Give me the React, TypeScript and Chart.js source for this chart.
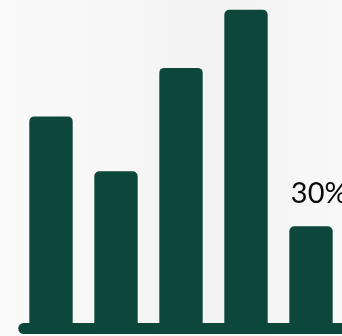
import React, { useEffect, useRef } from "react";
import { Chart, registerables } from "chart.js";

Chart.register(...registerables);

const categories = ["A", "B", "C", "D", "E"];
const values = [64, 47, 79, 97, 30];
const labelIndex = 4;
const labelText = "30%";

const barColor = "#0d463a";

const decorPlugin = {
  id: "decor",
  beforeDatasetsDraw(chart: any) {
    const { ctx, chartArea } = chart;
    ctx.save();
    ctx.strokeStyle = barColor;
    ctx.lineWidth = 11;
    ctx.lineCap = "round";
    ctx.beginPath();
    ctx.moveTo(chartArea.left + 5.3, chartArea.bottom + 5.2);
    ctx.lineTo(chart.width + 20, chartArea.bottom + 5.2);
    ctx.stroke();
    ctx.restore();
  },
  afterDatasetsDraw(chart: any) {
    const { ctx } = chart;
    const bar = chart.getDatasetMeta(0).data[labelIndex];
    if (!bar) return;
    ctx.save();
    ctx.fillStyle = "#0a0a0a";
    ctx.font = "400 29px Lato, 'Open Sans', sans-serif";
    ctx.textAlign = "left";
    ctx.textBaseline = "alphabetic";
    ctx.fillText(labelText, bar.x - bar.width / 2 + 1.5, bar.y - 23);
    ctx.restore();
  },
};

export default function App() {
  const ref = useRef<HTMLCanvasElement>(null);
  useEffect(() => {
    if (!ref.current) return;
    const chart = new Chart(ref.current, {
      type: "bar",
      data: {
        labels: categories,
        datasets: [
          {
            data: values,
            backgroundColor: barColor,
            borderRadius: 5,
            borderSkipped: "start",
            barPercentage: 0.667,
            categoryPercentage: 1,
          },
        ],
      },
      options: {
        animation: false,
        responsive: false,
        maintainAspectRatio: false,
        layout: { padding: { left: 18.5, right: 2.5, top: 0, bottom: 12.7 } },
        plugins: { legend: { display: false }, tooltip: { enabled: false } },
        scales: {
          x: { display: false },
          y: { display: false, min: 0, max: 100 },
        },
      },
      plugins: [decorPlugin],
    });
    return () => chart.destroy();
  }, []);
  return (
    <div
      style={{
        position: "fixed",
        left: 0,
        top: 0,
        width: 342,
        height: 336,
        overflow: "hidden",
        background:
          "linear-gradient(to right, #fafafa 0%, #f7f7f7 30%, #f3f3f3 60%, #f5f5f5 80%, #f8f8f8 100%)",
      }}
    >
      <canvas ref={ref} width={346} height={336} style={{ display: "block" }} />
    </div>
  );
}
